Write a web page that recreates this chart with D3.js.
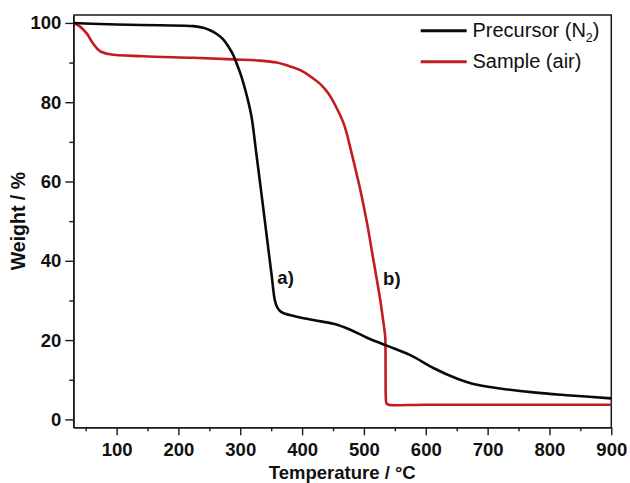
<!DOCTYPE html>
<html>
<head>
<meta charset="utf-8">
<script src="https://cdn.jsdelivr.net/npm/d3@7/dist/d3.min.js"></script>
<style>
  html, body { margin: 0; padding: 0; background: #fff; }
  svg { display: block; }
  text { font-family: "Liberation Sans", Arial, Helvetica, sans-serif; }
</style>
</head>
<body>
<svg id="chart" width="630" height="483"></svg>
<script>
// Thermogravimetric curves: weight loss vs temperature
const precursorTemp = [30, 60, 100, 170, 224, 240, 252, 262, 272, 281, 289, 296, 302, 310, 318, 326, 335, 343, 351, 356, 360, 366, 380, 397, 420, 451, 478, 505, 537, 575, 613, 650, 677, 720, 774, 828, 900];
const precursorWeight = [100, 99.8, 99.6, 99.4, 99.2, 98.8, 98.1, 97.2, 95.9, 94.0, 91.8, 89.0, 86.4, 82.0, 76.5, 67.0, 56.0, 46.0, 36.0, 30.0, 28.2, 27.1, 26.3, 25.7, 25.0, 24.1, 22.6, 20.6, 18.6, 16.2, 12.9, 10.3, 8.9, 7.8, 6.8, 6.1, 5.3];

const sampleTemp = [30, 40, 52, 62, 73, 89, 143, 224, 289, 332, 359, 375, 397, 418, 430, 442, 455, 468, 478, 488, 494, 505, 515, 526, 531, 534, 534.6, 535, 535.3, 536.5, 540, 600, 900];
const sampleWeight = [100, 99.2, 97.3, 94.8, 92.9, 92.1, 91.6, 91.2, 90.8, 90.5, 90.0, 89.3, 88.1, 86.0, 84.5, 82.3, 78.8, 74.3, 68.5, 62.0, 58.0, 49.5, 40.5, 30.5, 25.0, 21.5, 20.3, 12.0, 6.0, 4.0, 3.7, 3.7, 3.7];

const seriesNames = ["Precursor (N", "Sample (air)"];
const seriesColors = ["#0a0a0a", "#c21b22"];

const xMajorTicks = [100, 200, 300, 400, 500, 600, 700, 800, 900];
const xMinorTicks = [50, 150, 250, 350, 450, 550, 650, 750, 850];
const yMajorTicks = [0, 20, 40, 60, 80, 100];
const yMinorTicks = [10, 30, 50, 70, 90];

const annotations = [
  { text: "a)", t: 360, w: 34.2 },
  { text: "b)", t: 531, w: 34.0 }
];

const svg = d3.select("#chart");
const plotLeft = 73.3, plotRight = 611.3, plotTop = 15, plotBottom = 427.3;

const x = d3.scaleLinear().domain([30, 900]).range([plotLeft, plotRight]);
const y = d3.scaleLinear().domain([-2, 102]).range([plotBottom, plotTop]);

const axisColor = "#1a1a1a";

// frame (top and right edges)
svg.append("path")
  .attr("d", `M${plotLeft},${plotTop}H${plotRight}V${plotBottom}`)
  .attr("fill", "none").attr("stroke", axisColor).attr("stroke-width", 1.5);

function styleAxis(g) {
  g.selectAll("path.domain").attr("stroke", axisColor).attr("stroke-width", 1.6);
  g.selectAll(".tick line").attr("stroke", axisColor).attr("stroke-width", 1.4);
  g.selectAll(".tick text")
    .attr("fill", "#111")
    .style("font-size", "18.5px")
    .style("font-weight", "bold");
}

// y axis
svg.append("g").attr("transform", `translate(${plotLeft},0)`)
  .call(d3.axisLeft(y).tickValues(yMinorTicks).tickSize(4).tickSizeOuter(0).tickFormat(""))
  .call(styleAxis);
svg.append("g").attr("transform", `translate(${plotLeft},0)`)
  .call(d3.axisLeft(y).tickValues(yMajorTicks).tickSize(8).tickSizeOuter(0).tickPadding(4))
  .call(styleAxis);

// x axis
svg.append("g").attr("transform", `translate(0,${plotBottom})`)
  .call(d3.axisBottom(x).tickValues(xMinorTicks).tickSize(4).tickSizeOuter(0).tickFormat(""))
  .call(styleAxis);
svg.append("g").attr("transform", `translate(0,${plotBottom})`)
  .call(d3.axisBottom(x).tickValues(xMajorTicks).tickSize(8).tickSizeOuter(0).tickPadding(8))
  .call(styleAxis);

// axis titles
svg.append("text")
  .attr("x", (plotLeft + plotRight) / 2).attr("y", 479)
  .attr("text-anchor", "middle")
  .style("font-size", "18.5px").style("font-weight", "bold").attr("fill", "#111")
  .text("Temperature / °C");

svg.append("text")
  .attr("transform", `translate(25,${(plotTop + plotBottom) / 2}) rotate(-90)`)
  .attr("text-anchor", "middle")
  .style("font-size", "19.5px").style("font-weight", "bold").attr("fill", "#111")
  .text("Weight / %");

// curves
const line = d3.line()
  .x(d => x(d[0]))
  .y(d => y(d[1]))
  .curve(d3.curveCatmullRom.alpha(0.5));

const precursor = precursorTemp.map((t, i) => [t, precursorWeight[i]]);
const sample = sampleTemp.map((t, i) => [t, sampleWeight[i]]);

svg.append("path").datum(sample)
  .attr("d", line).attr("fill", "none")
  .attr("stroke", seriesColors[1]).attr("stroke-width", 2.6)
  .attr("stroke-linejoin", "round");

svg.append("path").datum(precursor)
  .attr("d", line).attr("fill", "none")
  .attr("stroke", seriesColors[0]).attr("stroke-width", 2.6)
  .attr("stroke-linejoin", "round");

// curve labels
svg.selectAll("text.anno").data(annotations).enter().append("text")
  .attr("class", "anno")
  .attr("x", d => x(d.t)).attr("y", d => y(d.w))
  .style("font-size", "18.5px").style("font-weight", "bold").attr("fill", "#111")
  .text(d => d.text);

// legend
const legend = svg.append("g");
const legendY = [30.7, 61.7];
seriesNames.forEach((name, i) => {
  legend.append("line")
    .attr("x1", 420.7).attr("x2", 466.7)
    .attr("y1", legendY[i]).attr("y2", legendY[i])
    .attr("stroke", seriesColors[i]).attr("stroke-width", 3);
  const t = legend.append("text")
    .attr("x", 472.5).attr("y", legendY[i] + 6.4)
    .style("font-size", "20px").attr("fill", "#111");
  t.append("tspan").text(name);
  if (i === 0) {
    t.append("tspan").attr("dy", 5).style("font-size", "12.5px").text("2");
    t.append("tspan").attr("dy", -5).text(")");
  }
});
</script>
</body>
</html>
